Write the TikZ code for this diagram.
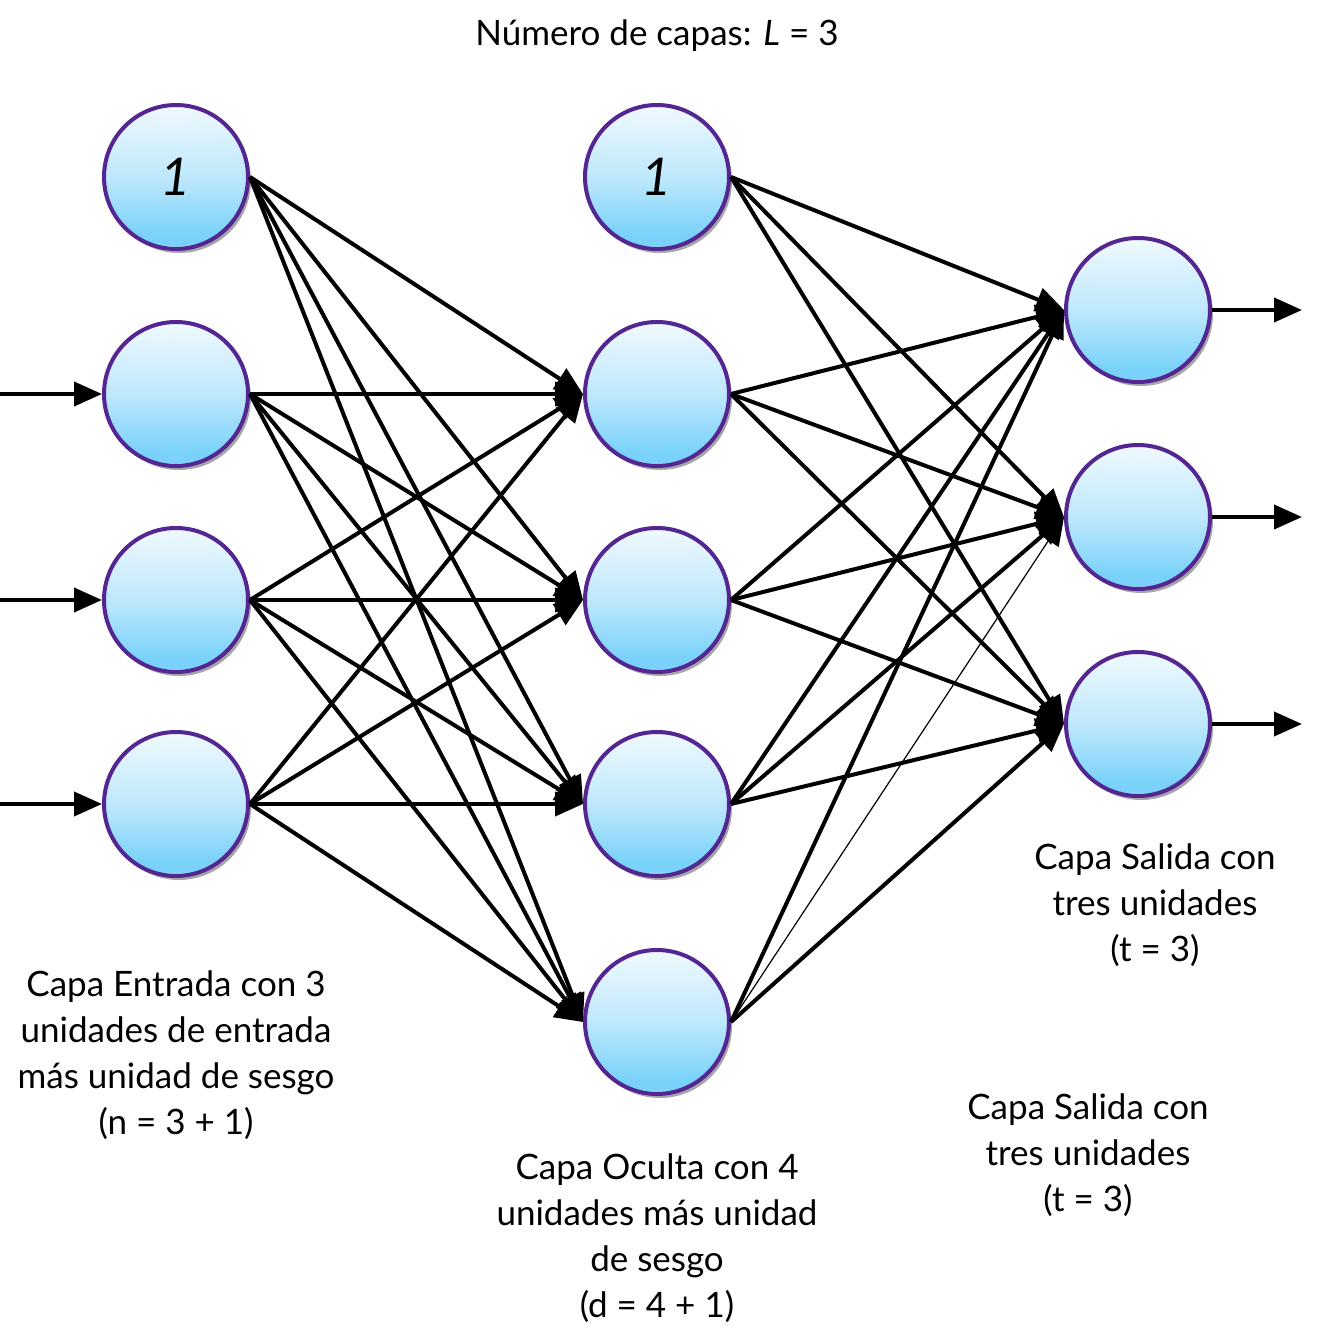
\documentclass[tikz,border=0pt]{standalone}
\usepackage{fontspec}
\setmainfont{Lato}
\usetikzlibrary{arrows.meta,shadows}
\definecolor{ubord}{RGB}{84,38,146}
\definecolor{utop}{RGB}{240,249,254}
\definecolor{umid}{RGB}{190,232,252}
\definecolor{ubot}{RGB}{122,210,250}
\definecolor{uband}{RGB}{205,240,253}
\pgfdeclareverticalshading{bubble}{100bp}{color(0bp)=(uband); color(25bp)=(uband); color(26.5bp)=(ubot); color(30bp)=(ubot); color(50bp)=(umid); color(75bp)=(utop); color(100bp)=(utop)}
\begin{document}
\begin{tikzpicture}[x=0.5pt,y=-0.5pt,
  unit/.style={circle, draw=ubord, line width=2pt, minimum size=72pt, inner sep=0pt, shade, shading=bubble,
    drop shadow={shadow xshift=1.5pt, shadow yshift=-2pt, opacity=0.35, fill=black}},
  conn/.style={line width=2pt, -{Triangle[length=14pt,width=12pt]}},
  thinconn/.style={line width=0.6pt, -{Triangle[length=14pt,width=12pt]}},
  lbl/.style={align=center, font=\fontsize{17.5}{23}\selectfont},
  biastext/.style={font=\fontsize{26}{30}\selectfont\itshape}]
\fill[white] (0,0) rectangle (1341,1337);
\useasboundingbox (0,0) rectangle (1341,1337);

% title
\node[lbl] (title) at (657,36) {Número de capas: \textit{L} = 3};

% input layer
\node[unit,biastext] (i0) at (176,177) {1};
\node[unit] (i1) at (176,394) {};
\node[unit] (i2) at (176,600) {};
\node[unit] (i3) at (176,804) {};
% hidden layer
\node[unit,biastext] (h0) at (657,177) {1};
\node[unit] (h1) at (657,394) {};
\node[unit] (h2) at (657,600) {};
\node[unit] (h3) at (657,804) {};
\node[unit] (h4) at (657,1022) {};
% output layer
\node[unit] (o1) at (1138,310) {};
\node[unit] (o2) at (1138,517) {};
\node[unit] (o3) at (1138,724) {};

% input -> hidden
\foreach \i in {0,1,2,3}{
  \foreach \j in {1,2,3,4}{
    \draw[conn] (i\i.east) -- (h\j.west);
  }
}
% hidden -> output
\foreach \h/\o in {0/1,0/2,0/3,1/1,1/2,1/3,2/1,2/2,2/3,3/1,3/2,3/3,4/1,4/3}{
  \draw[conn] (h\h.east) -- (o\o.west);
}
\draw[thinconn] (h4.east) -- (o2.west);

% external inputs and outputs
\coordinate (x1) at (0,394);
\coordinate (x2) at (0,600);
\coordinate (x3) at (0,804);
\coordinate (y1) at (1302,310);
\coordinate (y2) at (1302,517);
\coordinate (y3) at (1302,724);
\foreach \k in {1,2,3}{
  \draw[conn] (x\k) -- (i\k.west);
  \draw[conn] (o\k.east) -- (y\k);
}

% labels
\node[lbl] (linput) at (176,1055) {Capa Entrada con 3\\unidades de entrada\\más unidad de sesgo\\(n = 3 + 1)};
\node[lbl] (lhidden) at (657,1238) {Capa Oculta con 4\\unidades más unidad\\de sesgo\\(d = 4 + 1)};
\node[lbl] (lout1) at (1155,905) {Capa Salida con\\tres unidades\\(t = 3)};
\node[lbl] (lout2) at (1088,1155) {Capa Salida con\\tres unidades\\(t = 3)};
\end{tikzpicture}
\end{document}
